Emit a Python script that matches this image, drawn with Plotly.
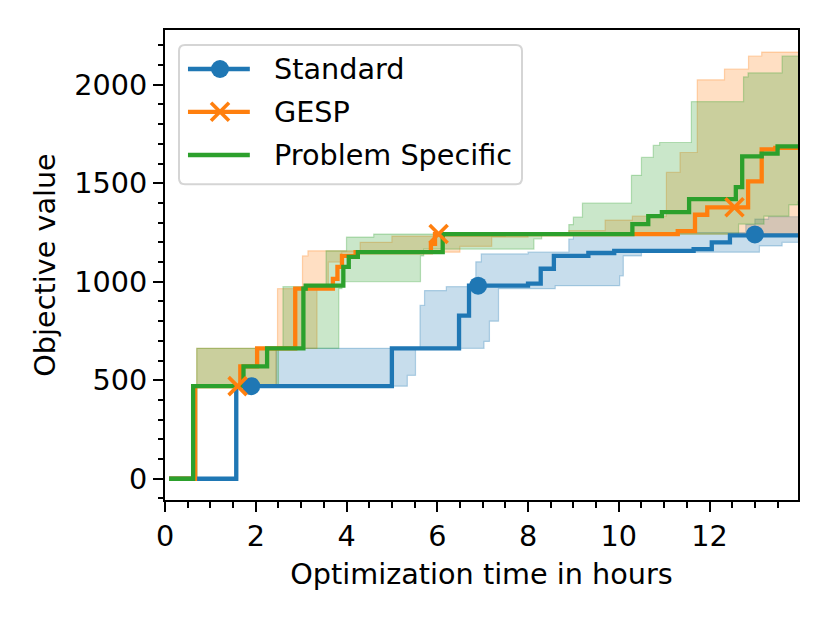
import plotly.graph_objects as go

# step data (hours, objective value), drawn as post-steps
std_t = [0.09, 1.57, 5.0, 6.48, 6.7, 8.0, 8.28, 8.57, 9.33, 9.9, 11.65, 12.05, 12.45, 13.95]
std_v = [0, 470, 662, 828, 980, 990, 1066, 1131, 1146, 1157, 1166, 1200, 1235, 1240]
std_lo_t = [0.09, 1.6, 5.34, 5.52, 7.03, 7.15, 7.35, 8.6, 10.02, 10.1, 10.5, 13.1, 13.6, 13.95]
std_lo_v = [0, 470, 525, 662, 697, 800, 965, 980, 1030, 1131, 1150, 1182, 1200, 1200]
std_hi_t = [0.09, 1.55, 2.45, 5.62, 5.72, 6.2, 6.85, 6.97, 8.0, 8.9, 9.0, 12.8, 13.0, 13.3, 13.95]
std_hi_v = [0, 470, 662, 880, 955, 975, 1101, 1141, 1150, 1217, 1250, 1290, 1318, 1330, 1330]
std_mark_t = [1.9, 6.9, 13.0]
std_mark_v = [470, 980, 1240]

gesp_t = [0.09, 0.66, 1.66, 2.03, 2.87, 3.7, 3.8, 3.9, 4.2, 5.86, 5.95, 11.3, 11.68, 11.95,
          12.85, 13.15, 13.45, 13.95]
gesp_v = [0, 470, 570, 662, 965, 1015, 1075, 1131, 1150, 1192, 1242, 1257, 1340, 1378,
          1510, 1672, 1680, 1680]
gesp_lo_t = [0.09, 0.7, 2.45, 3.35, 3.6, 3.9, 6.5, 7.2, 8.0, 13.95]
gesp_lo_v = [0, 470, 662, 965, 1100, 1150, 1180, 1227, 1242, 1245]
gesp_hi_t = [0.09, 0.7, 2.48, 3.03, 3.15, 4.3, 5.0, 7.5, 8.9, 9.7, 10.3, 11.05, 11.35, 11.73,
             12.33, 12.86, 13.15, 13.95]
gesp_hi_v = [0, 662, 965, 1131, 1157, 1200, 1232, 1242, 1260, 1313, 1333, 1555, 1656, 2025,
             2080, 2146, 2166, 2166]
gesp_mark_t = [1.6, 6.03, 12.55]
gesp_mark_v = [470, 1242, 1378]

ps_t = [0.09, 0.62, 1.73, 2.25, 3.05, 3.1, 3.93, 4.05, 4.25, 6.12, 10.3, 10.65, 10.95, 11.55,
        12.58, 12.72, 13.15, 13.5, 13.95]
ps_v = [0, 470, 570, 662, 965, 980, 1075, 1126, 1150, 1242, 1293, 1333, 1353, 1419,
        1480, 1636, 1650, 1687, 1687]
ps_lo_t = [0.09, 0.7, 2.5, 3.83, 3.9, 5.63, 5.7, 8.13, 8.3, 12.64, 13.2, 13.75, 13.95]
ps_lo_v = [0, 470, 662, 965, 1000, 1131, 1166, 1217, 1242, 1293, 1333, 1390, 1409]
ps_hi_t = [0.09, 0.7, 2.6, 3.55, 4.0, 4.6, 8.9, 9.0, 9.2, 10.28, 10.5, 10.76, 10.9, 11.6,
           12.75, 12.85, 13.6, 13.95]
ps_hi_v = [0, 662, 975, 1157, 1227, 1242, 1290, 1328, 1399, 1540, 1631, 1692, 1707, 1914,
           2040, 2060, 2146, 2146]

x_ticks = [0, 2, 4, 6, 8, 10, 12]
y_ticks = [0, 500, 1000, 1500, 2000]
legend_names = ["Standard", "GESP", "Problem Specific"]

BLUE = "#1f77b4"
ORANGE = "#ff7f0e"
GREEN = "#2ca02c"
FS = 28.7
LW = 4.3


def rgba(hex_color, a):
    h = hex_color.lstrip("#")
    r, g, b = int(h[0:2], 16), int(h[2:4], 16), int(h[4:6], 16)
    return f"rgba({r},{g},{b},{a})"


fig = go.Figure()

bands = [
    (std_lo_t, std_lo_v, std_hi_t, std_hi_v, BLUE),
    (gesp_lo_t, gesp_lo_v, gesp_hi_t, gesp_hi_v, ORANGE),
    (ps_lo_t, ps_lo_v, ps_hi_t, ps_hi_v, GREEN),
]
for lo_t, lo_v, hi_t, hi_v, col in bands:
    fig.add_trace(go.Scatter(x=lo_t, y=lo_v, mode="lines", line_shape="hv",
                             line=dict(color=rgba(col, 0.3), width=1.2),
                             showlegend=False, hoverinfo="skip"))
    fig.add_trace(go.Scatter(x=hi_t, y=hi_v, mode="lines", line_shape="hv",
                             line=dict(color=rgba(col, 0.3), width=1.2),
                             fill="tonexty", fillcolor=rgba(col, 0.25),
                             showlegend=False, hoverinfo="skip"))

for t, v, col in [(std_t, std_v, BLUE), (gesp_t, gesp_v, ORANGE), (ps_t, ps_v, GREEN)]:
    fig.add_trace(go.Scatter(x=t, y=v, mode="lines", line_shape="hv",
                             line=dict(color=col, width=LW), showlegend=False))

circle = dict(symbol="circle", size=18, color=BLUE)
cross = dict(symbol="x-thin", size=18, color=ORANGE, line=dict(color=ORANGE, width=3.6))
fig.add_trace(go.Scatter(x=std_mark_t, y=std_mark_v, mode="markers", marker=circle,
                         showlegend=False))
fig.add_trace(go.Scatter(x=gesp_mark_t, y=gesp_mark_v, mode="markers", marker=cross,
                         showlegend=False))

# hand-drawn legend (matplotlib style), in plot-area fractions
lx0, lx1, ly0, ly1 = 0.0221, 0.564, 0.672, 0.968
rx, ry = 0.0095, 0.0128
box_path = (f"M{lx0 + rx},{ly1} L{lx1 - rx},{ly1} Q{lx1},{ly1} {lx1},{ly1 - ry} "
            f"L{lx1},{ly0 + ry} Q{lx1},{ly0} {lx1 - rx},{ly0} L{lx0 + rx},{ly0} "
            f"Q{lx0},{ly0} {lx0},{ly0 + ry} L{lx0},{ly1 - ry} Q{lx0},{ly1} {lx0 + rx},{ly1} Z")
shapes = [dict(type="path", path=box_path, xref="paper", yref="paper",
               fillcolor="rgba(255,255,255,0.8)", line=dict(color="#d5d5d5", width=2),
               layer="below")]
row_y = [0.917, 0.826, 0.734]
annotations = []
for name, yy, col in zip(legend_names, row_y, [BLUE, ORANGE, GREEN]):
    shapes.append(dict(type="line", xref="paper", yref="paper", x0=0.0363, x1=0.134,
                       y0=yy, y1=yy, line=dict(color=col, width=LW), layer="below"))
    annotations.append(dict(text=name, xref="paper", yref="paper", x=0.169, y=yy,
                            xanchor="left", yanchor="middle", showarrow=False,
                            font=dict(size=FS, color="black")))

fig.add_trace(go.Scatter(x=[0.0869], y=[row_y[0]], mode="markers", marker=circle,
                         xaxis="x2", yaxis="y2", showlegend=False, hoverinfo="skip"))
fig.add_trace(go.Scatter(x=[0.0869], y=[row_y[1]], mode="markers", marker=cross,
                         xaxis="x2", yaxis="y2", showlegend=False, hoverinfo="skip"))

axis_common = dict(
    showline=True, linecolor="black", linewidth=2, mirror=True,
    ticks="outside", ticklen=10, tickwidth=2, tickcolor="black",
    showgrid=False, zeroline=False,
    tickfont=dict(size=FS, color="black"),
)

fig.update_xaxes(
    range=[0, 13.95], tickvals=x_ticks,
    minor=dict(ticks="outside", ticklen=5.5, tickwidth=1.6, dtick=0.5, tick0=0, tickcolor="black"),
    title=dict(text="Optimization time in hours", font=dict(size=FS, color="black"), standoff=11),
    **axis_common,
)
fig.update_yaxes(
    range=[-108, 2278], tickvals=y_ticks,
    minor=dict(ticks="outside", ticklen=5.5, tickwidth=1.6, dtick=100, tick0=0, tickcolor="black"),
    title=dict(text="Objective value", font=dict(size=FS, color="black"), standoff=10),
    **axis_common,
)

# the page body adds 8px around the figure, so the margins are shifted by that much
fig.update_layout(
    width=814, height=607,
    margin=dict(l=157, r=24, t=22, b=115),
    paper_bgcolor="white", plot_bgcolor="white",
    font=dict(family="DejaVu Sans", size=FS, color="black"),
    showlegend=False,
    shapes=shapes,
    annotations=annotations,
    xaxis2=dict(overlaying="x", range=[0, 1], visible=False, anchor="y2"),
    yaxis2=dict(overlaying="y", range=[0, 1], visible=False, anchor="x2"),
)

fig.write_html("out.html")
